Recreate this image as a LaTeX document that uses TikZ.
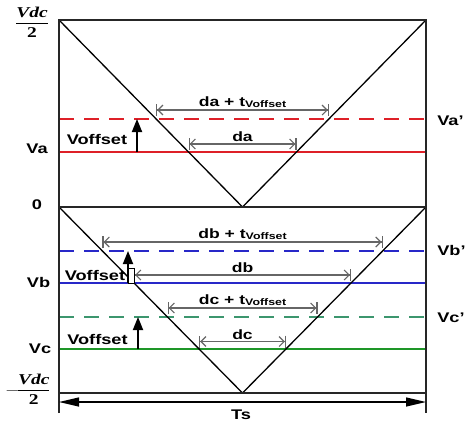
\documentclass[tikz,border=0pt]{standalone}
\usepackage{fontspec}
\setmainfont{Liberation Serif}
\setsansfont{Liberation Sans}
\usetikzlibrary{arrows.meta}
\definecolor{lvlred}{RGB}{222,32,40}
\definecolor{lvlblue}{RGB}{40,40,200}
\definecolor{lvlteal}{RGB}{60,150,110}
\definecolor{lvlgreen}{RGB}{30,150,40}
\newcommand\offsub{{\fontsize{9.5}{11}\selectfont\raisebox{-1pt}{Voffset}}}

\begin{document}
\begin{tikzpicture}[
    x=1pt, y=-1pt,
    frame/.style={line width=2pt, black!85},
    carrier/.style={line width=1.3pt, black},
    level/.style={line width=1.7pt},
    shifted/.style={level, dash pattern=on 15pt off 10pt},
    dim/.style={line width=1.1pt, black!60,
        {Bar[width=12pt]Straight Barb[length=5pt,width=10pt]}-{Straight Barb[length=5pt,width=10pt]Bar[width=12pt]}},
    lift/.style={line width=1.8pt, -{Triangle[length=13pt,width=10pt]}},
    span/.style={line width=1.2pt, {Triangle[length=20pt,width=9pt]}-{Triangle[length=20pt,width=9pt]}},
    lbl/.style={font=\fontsize{14}{16}\selectfont\sffamily\bfseries, xscale=1.3, inner sep=0pt},
    dimlbl/.style={lbl, font=\fontsize{13.5}{16}\selectfont\sffamily\bfseries, anchor=south},
    fraclbl/.style={font=\fontsize{15}{17}\selectfont\bfseries, xscale=1.3, inner sep=0pt},
]
\useasboundingbox (0,0) rectangle (465,423);

% frame and carrier corners
\coordinate (tl) at (59,20);
\coordinate (tr) at (426,20);
\coordinate (ml) at (59,207);
\coordinate (mr) at (426,207);
\coordinate (bl) at (59,393);
\coordinate (br) at (426,393);
\coordinate (lfoot) at (59,413);
\coordinate (rfoot) at (426,413);
\coordinate (apexA) at (242.5,207);
\coordinate (apexB) at (242.5,393);

% reference levels
\foreach \lv/\y/\col/\sty in {vap/119/lvlred/shifted, va/152/lvlred/level,
        vbp/251/lvlblue/shifted, vb/283/lvlblue/level,
        vcp/317/lvlteal/shifted, vc/349/lvlgreen/level} {
    \coordinate (\lv-l) at (59,\y);
    \coordinate (\lv-r) at (426,\y);
    \draw[\sty, \col] (\lv-l) -- (\lv-r);
}

% carriers and frame
\draw[carrier] (tl) -- (apexA) -- (tr);
\draw[carrier] (ml) -- (apexB) -- (mr);
\draw[frame] (lfoot) -- (tl) -- (tr) -- (rfoot);
\draw[frame] (ml) -- (mr);
\draw[frame] (bl) -- (br);

% duty widths
\foreach \nm/\ya/\xl/\xr/\txt in {dap/110/156.1/328.9/{da + t\offsub},
        da/144/188.5/296.5/{da},
        dbp/242/102.4/382.6/{db + t\offsub},
        db/275/134/351/{db},
        dcp/308/167.5/317.5/{dc + t\offsub},
        dc/341.5/199.1/285.9/{dc}} {
    \coordinate (\nm-l) at (\xl,\ya);
    \coordinate (\nm-r) at (\xr,\ya);
    \draw[dim] (\nm-l) -- (\nm-r);
    \node[dimlbl] (\nm-txt) at (242.5,\ya-2) {\txt};
}

% offset arrows
\coordinate (liftA0) at (137,152);
\coordinate (liftA1) at (137,119);
\coordinate (liftB0) at (128,283);
\coordinate (liftB1) at (128,251);
\coordinate (liftC0) at (138,349);
\coordinate (liftC1) at (138,317);
\draw[line width=0.8pt, fill=white] (128,268) rectangle (134,283);
\draw[lift] (liftA0) -- (liftA1);
\draw[lift] (liftB0) -- (liftB1);
\draw[lift] (liftC0) -- (liftC1);
\node[lbl] (offA) at (97,139) {Voffset};
\node[lbl] (offB) at (95,275.5) {Voffset};
\node[lbl] (offC) at (97.5,339.5) {Voffset};

% period
\coordinate (tsL) at (59,402);
\coordinate (tsR) at (426,402);
\draw[span] (tsL) -- (tsR);
\node[lbl] (ts) at (241,414.5) {Ts};

% axis labels
\node[fraclbl] (vtop) at (32,22) {$\displaystyle\frac{\textbf{\textit{Vdc}}}{\textbf{2}}$};
\node[fraclbl] (vbot) at (28,389) {$\displaystyle-\!\frac{\textbf{\textit{Vdc}}}{\textbf{2}}$};
\node[lbl] (zero) at (37,205) {0};
\node[lbl] (lva) at (37,149) {Va};
\node[lbl] (lvb) at (38.5,282) {Vb};
\node[lbl] (lvc) at (40,349) {Vc};
\node[lbl, anchor=west] (lvap) at (437,121) {Va'};
\node[lbl, anchor=west] (lvbp) at (437,250) {Vb'};
\node[lbl, anchor=west] (lvcp) at (437,318) {Vc'};
\end{tikzpicture}
\end{document}
